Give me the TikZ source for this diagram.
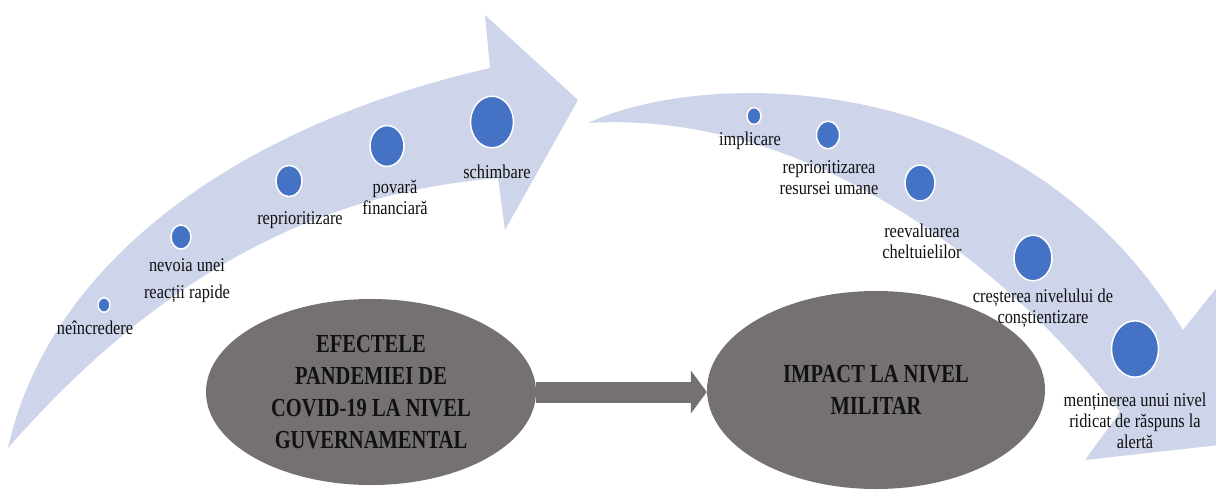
\documentclass[tikz,border=0pt]{standalone}
\usepackage{fontspec}
\usepackage{xcolor}
\usepackage{tikz}
\usetikzlibrary{shapes.geometric,arrows.meta}
\newfontfamily\labelfont[FakeStretch=0.84]{Liberation Serif}
\newfontfamily\titlefont[FakeStretch=0.79]{Liberation Serif}
\definecolor{band}{HTML}{CED5EA}
\definecolor{dot}{HTML}{4472C4}
\definecolor{slate}{HTML}{767171}
\definecolor{ink}{HTML}{111111}
\tikzset{
  bandFill/.style={fill=band},
  dotNode/.style={ellipse, fill=dot, draw=white, line width=1.5pt, inner sep=0pt,
    minimum width={2*#1}, minimum height={2.4*#1}},
  stepLabel/.style={text=ink, font=\labelfont\fontsize{19.5}{21}\selectfont,
    align=center, inner sep=0pt},
  bigEllipse/.style={ellipse, fill=slate, inner sep=0pt, text=ink, align=center,
    font=\titlefont\bfseries\fontsize{26}{32}\selectfont},
  linkArrow/.style={draw=slate, line width=21pt,
    -{Triangle[length=16pt, width=43pt, line width=0pt]}}
}

\begin{document}
\begin{tikzpicture}[x=1pt, y=-1pt]
  \useasboundingbox (0,0) rectangle (1216,491);
  \clip (0,0) rectangle (1216,491);

  % left curved arrow (rising)
  \fill[bandFill] (8,448) .. controls (50,260) and (240,125) .. (490,68)
    -- (485,15) -- (578,100) -- (505,230) -- (498,178)
    .. controls (360,190) and (190,240) .. (8,448) -- cycle;

  % right curved arrow (falling)
  \fill[bandFill] (588,123) .. controls (700,70) and (1020,60) .. (1183,330)
    -- (1225,277) -- (1246,442) -- (1085,460) -- (1120,412)
    .. controls (1000,255) and (800,110) .. (588,123) -- cycle;

  % steps on the left arrow
  \node[dotNode=6]    (l1) at (104,305) {};
  \node[dotNode=10]   (l2) at (181,237) {};
  \node[dotNode=13]   (l3) at (289,181) {};
  \node[dotNode=17]   (l4) at (387,146) {};
  \node[dotNode=21.5] (l5) at (492,122) {};

  % steps on the right arrow
  \node[dotNode=7]    (r1) at (754,116) {};
  \node[dotNode=11.5] (r2) at (828,135) {};
  \node[dotNode=15]   (r3) at (920,183) {};
  \node[dotNode=19]   (r4) at (1033,258) {};
  \node[dotNode=23.5] (r5) at (1135,349) {};

  % the two main ellipses
  \node[bigEllipse, minimum width=330pt, minimum height=186pt] (efecte) at (371,392)
    {EFECTELE\\PANDEMIEI DE\\COVID-19 LA NIVEL\\GUVERNAMENTAL};
  \node[bigEllipse, minimum width=338pt, minimum height=198pt] (impact) at (876,390)
    {IMPACT LA NIVEL\\MILITAR};
  \draw[linkArrow] (efecte.east) -- (efecte.east -| impact.west);

  % labels
  \node[stepLabel] (t1) at (95,328)  {neîncredere};
  \node[stepLabel] (t2) at (187,281) {nevoia unei\\[6pt]reacții rapide};
  \node[stepLabel] (t3) at (300,220) {reprioritizare};
  \node[stepLabel] (t4) at (395,197) {povară\\financiară};
  \node[stepLabel] (t5) at (497,172) {schimbare};

  \node[stepLabel] (u1) at (750,141)  {implicare};
  \node[stepLabel] (u2) at (829,178)  {reprioritizarea\\resursei umane};
  \node[stepLabel] (u3) at (922,241)  {reevaluarea\\cheltuielilor};
  \node[stepLabel] (u4) at (1043,308) {creșterea nivelului de\\conștientizare};
  \node[stepLabel] (u5) at (1135,421) {menținerea unui nivel\\ridicat de răspuns la\\alertă};
\end{tikzpicture}
\end{document}
